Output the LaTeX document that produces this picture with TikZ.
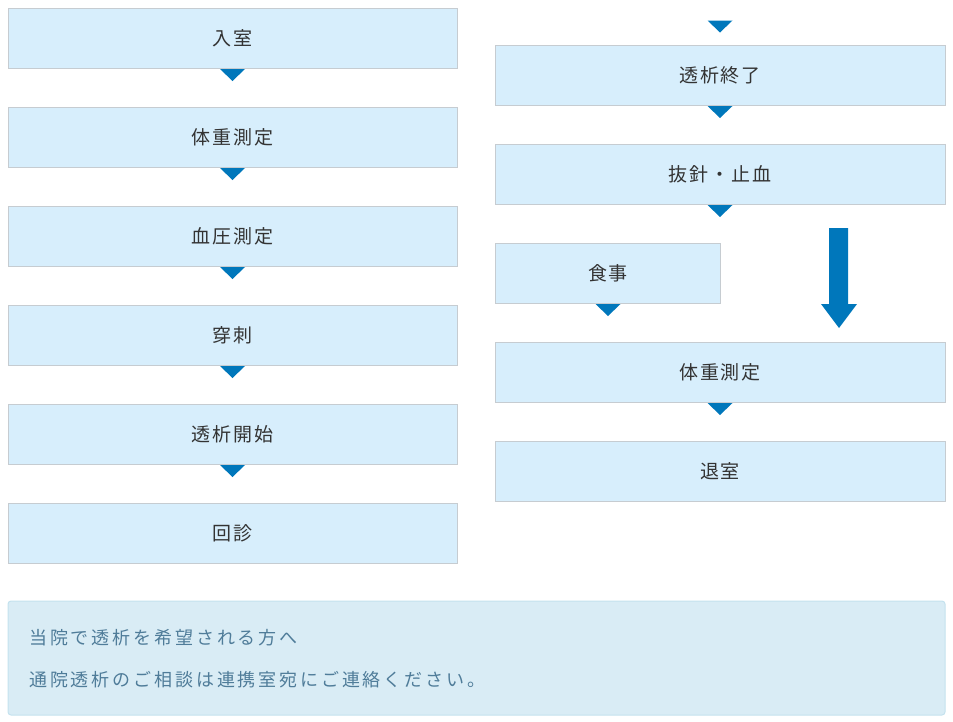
\documentclass[tikz,border=0pt]{standalone}
\usepackage{fontspec}
\setmainfont{Noto Sans CJK JP}
\usetikzlibrary{calc}
\definecolor{boxfill}{HTML}{D7EEFC}
\definecolor{boxline}{HTML}{C6CCD1}
\definecolor{triblue}{HTML}{0077BB}
\definecolor{txt}{HTML}{333333}
\definecolor{notefill}{HTML}{D9ECF5}
\definecolor{noteline}{HTML}{C4E2EE}
\definecolor{notetxt}{HTML}{4F7C99}
\newfontfamily\boxfont[LetterSpace=10]{Noto Sans CJK JP}
\newfontfamily\notefont[LetterSpace=16]{Noto Sans CJK JP}
\tikzset{
  stepbox/.style={draw=boxline, fill=boxfill, line width=1pt, minimum width=449, minimum height=60, inner sep=0, text=txt, font=\boxfont\fontsize{19}{21}\selectfont},
  widebox/.style={stepbox, minimum width=450},
  halfbox/.style={stepbox, minimum width=225},
  notetext/.style={anchor=west, inner sep=0, text=notetxt, font=\notefont\fontsize{18}{20}\selectfont},
  trifill/.style={fill=triblue},
}
\newcommand{\tribelow}[1]{\fill[trifill] ($(#1.south)+(-12.5,0)$) -- ($(#1.south)+(12.5,0)$) -- ($(#1.south)+(0,12)$) -- cycle;}
\begin{document}
\begin{tikzpicture}[x=1pt,y=-1pt]
\useasboundingbox (0,0) rectangle (953,721);
% left column
\node[stepbox] (l1) at (232.5,38.5) {入室};
\node[stepbox] (l2) at (232.5,137.5) {体重測定};
\node[stepbox] (l3) at (232.5,236.5) {血圧測定};
\node[stepbox] (l4) at (232.5,335.5) {穿刺};
\node[stepbox] (l5) at (232.5,434.5) {透析開始};
\node[stepbox] (l6) at (232.5,533.5) {回診};
\tribelow{l1}\tribelow{l2}\tribelow{l3}\tribelow{l4}\tribelow{l5}
% right column
\coordinate (top) at (720,20.5);
\fill[trifill] ($(top)+(-12.5,0)$) -- ($(top)+(12.5,0)$) -- ($(top)+(0,12)$) -- cycle;
\node[widebox] (r1) at (720,75.5) {透析終了};
\node[widebox] (r2) at (720,174.5) {抜針・止血};
\node[halfbox] (r3) at (608,273.5) {食事};
\node[widebox] (r4) at (720,372.5) {体重測定};
\node[widebox] (r5) at (720,471.5) {退室};
\tribelow{r1}\tribelow{r2}\tribelow{r3}\tribelow{r4}
% big arrow
\fill[trifill] (829,228) -- (848,228) -- (848,304) -- (857,304) -- (839,328) -- (821,304) -- (829,304) -- cycle;
% note box
\node[draw=noteline, fill=notefill, line width=1pt, rounded corners=3pt, minimum width=937, minimum height=114, inner sep=0] (note) at (476.5,658) {};
\node[notetext] (n1) at (29,638) {当院で透析を希望される方へ};
\node[notetext] (n2) at (29,680) {通院透析のご相談は連携室宛にご連絡ください。};
\end{tikzpicture}
\end{document}
